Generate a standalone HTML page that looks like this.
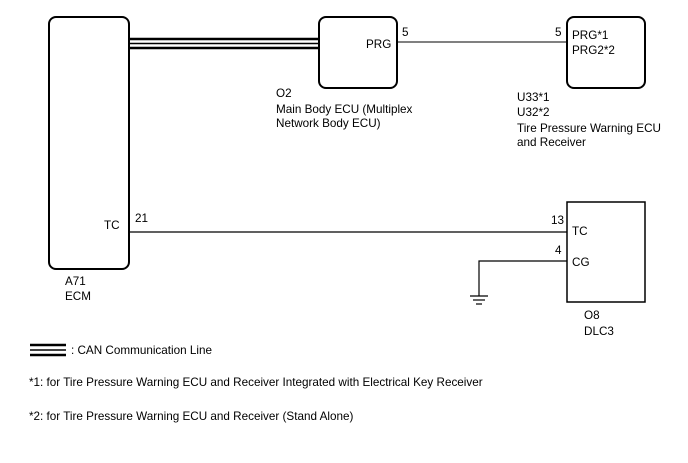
<!DOCTYPE html>
<html><head><style>body{margin:0;background:#fff}svg{display:block}text{font-family:"Liberation Sans",Arial,sans-serif;font-size:11.7px;fill:#000}</style></head>
<body>
<svg width="688" height="463" viewBox="0 0 688 463" xmlns="http://www.w3.org/2000/svg">
<g fill="none" stroke="#000">
<rect x="49" y="17" width="80" height="252" rx="7" stroke-width="2"/>
<rect x="319" y="17" width="78" height="71" rx="7" stroke-width="2"/>
<rect x="567" y="17" width="78" height="71" rx="7" stroke-width="2"/>
<rect x="567" y="202" width="78" height="100" stroke-width="1.5"/>
<line x1="129" y1="39" x2="319" y2="39" stroke-width="2.5"/>
<line x1="129" y1="43.5" x2="319" y2="43.5" stroke-width="1.5"/>
<line x1="129" y1="48" x2="319" y2="48" stroke-width="2.5"/>
<line x1="397" y1="42" x2="567" y2="42" stroke-width="1"/>
<line x1="129" y1="232" x2="567" y2="232" stroke-width="1.2"/>
<polyline points="567,261 479,261 479,296" stroke-width="1.2"/>
<line x1="470" y1="296" x2="488" y2="296" stroke-width="1.2"/>
<line x1="473" y1="300" x2="485" y2="300" stroke-width="1.2"/>
<line x1="476" y1="304" x2="482" y2="304" stroke-width="1.2"/>
<line x1="30" y1="345" x2="66" y2="345" stroke-width="2.5"/>
<line x1="30" y1="350" x2="66" y2="350" stroke-width="1.5"/>
<line x1="30" y1="355" x2="66" y2="355" stroke-width="2.5"/>
</g>
<text x="366" y="48">PRG</text>
<text x="402" y="36">5</text>
<text x="555" y="36">5</text>
<text x="572" y="39">PRG*1</text>
<text x="572" y="54">PRG2*2</text>
<text x="276" y="97">O2</text>
<text x="276" y="113">Main Body ECU (Multiplex</text>
<text x="276" y="127">Network Body ECU)</text>
<text x="517" y="101">U33*1</text>
<text x="517" y="116">U32*2</text>
<text x="517" y="132">Tire Pressure Warning ECU</text>
<text x="517" y="146">and Receiver</text>
<text x="104" y="229">TC</text>
<text x="135" y="222">21</text>
<text x="551" y="224">13</text>
<text x="572" y="235">TC</text>
<text x="555" y="254">4</text>
<text x="572" y="266">CG</text>
<text x="65" y="285">A71</text>
<text x="65" y="300">ECM</text>
<text x="584" y="319">O8</text>
<text x="584" y="335">DLC3</text>
<text x="71" y="354">: CAN Communication Line</text>
<text x="29" y="386">*1: for Tire Pressure Warning ECU and Receiver Integrated with Electrical Key Receiver</text>
<text x="29" y="420">*2: for Tire Pressure Warning ECU and Receiver (Stand Alone)</text>
</svg>
</body></html>
